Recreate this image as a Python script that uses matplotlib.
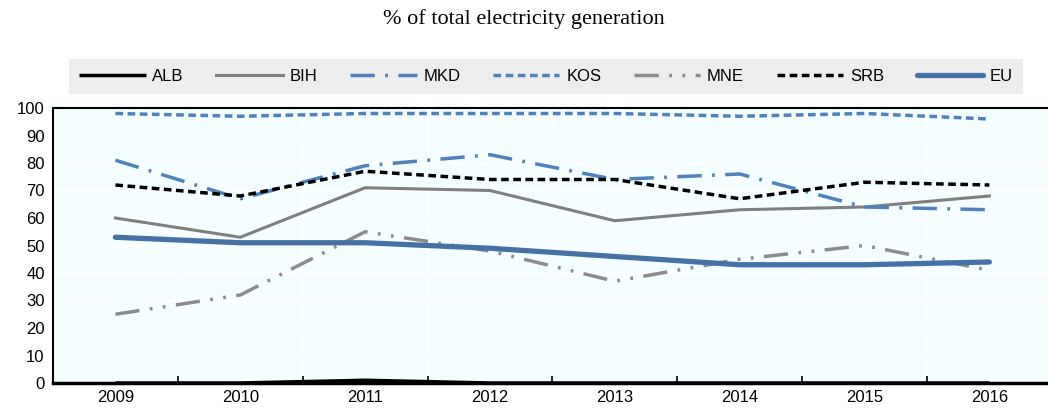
import matplotlib.pyplot as plt
import numpy as np

# Data
years = ['2009', '2010', '2011', '2012', '2013', '2014', '2015', '2016']
alb = [0, 0, 1, 0, 0, 0, 0, 0]
bih = [60, 53, 71, 70, 59, 63, 64, 68]
mkd = [81, 67, 79, 83, 74, 76, 64, 63]
kos = [98, 97, 98, 98, 98, 97, 98, 96]
mne = [25, 32, 55, 48, 37, 45, 50, 41]
srb = [72, 68, 77, 74, 74, 67, 73, 72]
eu = [53, 51, 51, 49, 46, 43, 43, 44]

plt.rcParams['font.family'] = ['Liberation Sans', 'DejaVu Sans']

fig = plt.figure(figsize=(10.48, 4.13), dpi=100)
ax = fig.add_axes([53/1048, 1 - 383/413, (1048 - 53)/1048, (383 - 108)/413])
ax.set_facecolor('#F4FEFF')

x = np.arange(len(years))
blue = '#4F81BD'
ax.plot(x, alb, color='black', lw=2.5, label='ALB', solid_capstyle='butt')
ax.plot(x, bih, color='#7F7F7F', lw=2.2, label='BIH')
ax.plot(x, mkd, color=blue, lw=2.5, dashes=(7, 3, 0.8, 3), label='MKD')
ax.plot(x, kos, color=blue, lw=2.5, dashes=(2.2, 1.3), label='KOS')
ax.plot(x, mne, color='#8C8C8C', lw=2.5, dashes=(7, 3, 0.8, 3, 0.8, 3), label='MNE')
ax.plot(x, srb, color='black', lw=2.5, dashes=(2.2, 1.3), label='SRB')
ax.plot(x, eu, color='#4471A8', lw=3.8, label='EU', solid_capstyle='round')

ax.set_xlim(-0.5, 7.47)
ax.set_ylim(0, 100)
ax.set_yticks(range(0, 101, 10))
ax.set_xticks(x)
ax.set_xticklabels(years)
ax.set_xticks(np.arange(0.5, 7, 1), minor=True)
ax.tick_params(axis='x', which='major', length=0, labelsize=12, pad=5)
ax.tick_params(axis='x', which='minor', length=5, direction='in', width=1.2)
ax.tick_params(axis='y', length=0, labelsize=12, pad=6)

ax.grid(axis='y', color='white', lw=1.2)
ax.grid(axis='x', which='minor', color='white', lw=1.2)
ax.set_axisbelow(True)

ax.spines['right'].set_visible(False)
ax.spines['left'].set_linewidth(1.5)
ax.spines['top'].set_linewidth(1.5)
ax.spines['bottom'].set_linewidth(2.5)

fig.text(0.5, 1 - 19/413, '% of total electricity generation', ha='center', va='center',
         family='Liberation Serif', fontsize=16)

leg = fig.legend(loc='center', ncol=7, mode='expand',
                 bbox_to_anchor=(69/1048, 1 - 96/413, 954/1048, 39/413),
                 frameon=True, fancybox=False, fontsize=12, handlelength=4.0,
                 handletextpad=0.4, borderaxespad=0.0, borderpad=0.6)
leg.get_frame().set_facecolor('#E9E9E9')
leg.get_frame().set_edgecolor('none')
leg._legend_box.align = 'center'

plt.savefig('out.png', dpi=100)
plt.close()
